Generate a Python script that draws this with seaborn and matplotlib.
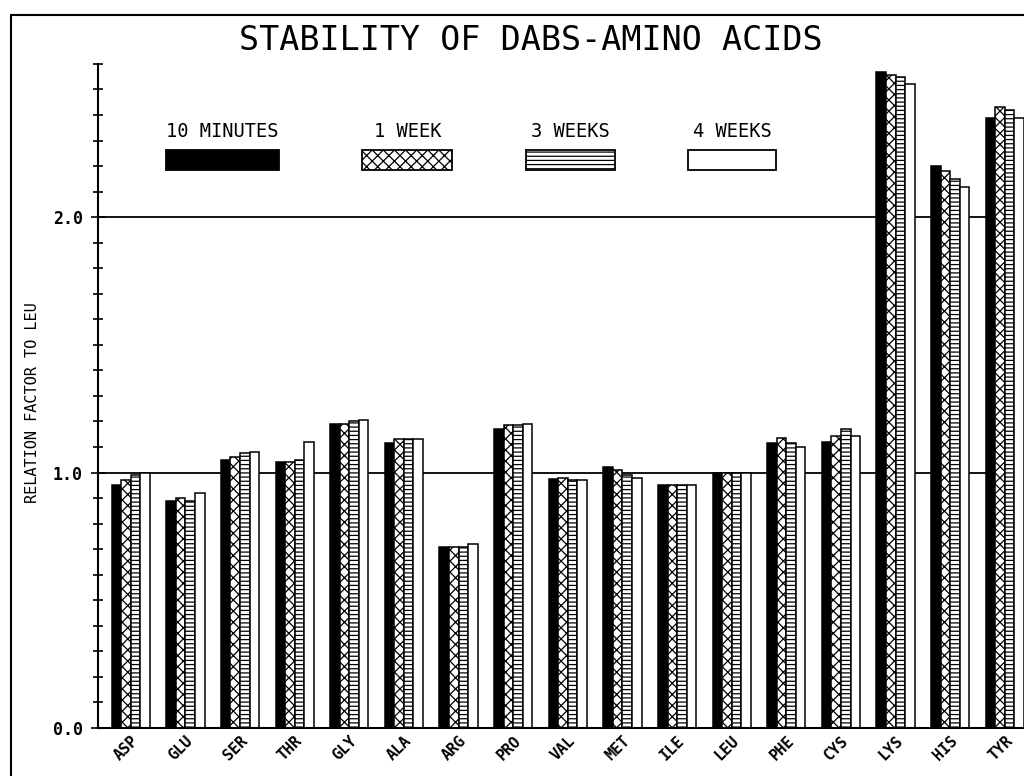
import matplotlib
matplotlib.use('Agg')
import matplotlib.pyplot as plt
from matplotlib.patches import Rectangle
from matplotlib.lines import Line2D
from matplotlib.ticker import MultipleLocator, FixedLocator
import numpy as np
import pandas as pd
import seaborn as sns

# Data
amino_acids = ['ASP', 'GLU', 'SER', 'THR', 'GLY', 'ALA', 'ARG', 'PRO', 'VAL',
               'MET', 'ILE', 'LEU', 'PHE', 'CYS', 'LYS', 'HIS', 'TYR']
series = ['10 MINUTES', '1 WEEK', '3 WEEKS', '4 WEEKS']
min_10 = [0.95, 0.89, 1.05, 1.04, 1.19, 1.115, 0.71, 1.17, 0.975, 1.02, 0.95, 1.00, 1.115, 1.12, 2.57, 2.20, 2.39]
week_1 = [0.97, 0.90, 1.06, 1.04, 1.19, 1.13, 0.71, 1.185, 0.98, 1.01, 0.95, 1.00, 1.135, 1.145, 2.555, 2.18, 2.43]
week_3 = [0.99, 0.89, 1.075, 1.05, 1.20, 1.13, 0.71, 1.185, 0.97, 0.99, 0.95, 1.00, 1.115, 1.17, 2.55, 2.15, 2.42]
week_4 = [1.00, 0.92, 1.08, 1.12, 1.205, 1.13, 0.72, 1.19, 0.97, 0.98, 0.95, 1.00, 1.10, 1.145, 2.52, 2.12, 2.39]
y_ticks = [0.0, 1.0, 2.0]
y_labels = ['0.0', '1.0', '2.0']

# Styles
fills = ['black', 'white', 'white', 'white']
hatches = [None, 'xxx', '----', None]
mono = 'DejaVu Sans Mono'

sns.set_style('white')
plt.rcParams['font.family'] = [mono, 'DejaVu Sans']
plt.rcParams['hatch.linewidth'] = 0.9
for key in ['text.color', 'axes.labelcolor', 'xtick.color', 'ytick.color']:
    plt.rcParams[key] = 'black'

df = pd.DataFrame({
    'acid': amino_acids * 4,
    'series': np.repeat(series, len(amino_acids)),
    'value': min_10 + week_1 + week_3 + week_4,
})

fig = plt.figure(figsize=(10.24, 7.76), dpi=100)
ax = fig.add_axes([0.0957, 0.0619, 0.9043, 0.8557])

sns.barplot(data=df, x='acid', y='value', hue='series', order=amino_acids,
            hue_order=series, palette=fills, saturation=1, width=0.7,
            edgecolor='black', linewidth=1.1, legend=False, ax=ax)

for container, hatch in zip(ax.containers, hatches):
    for bar in container:
        bar.set_hatch(hatch)

# Reference lines
for yv in [1.0, 2.0]:
    ax.axhline(yv, color='black', lw=1.3, zorder=0.5)

ax.set_xlim(-0.6, 16.35)
ax.set_ylim(0, 2.6)

for side in ['top', 'right']:
    ax.spines[side].set_visible(False)
for side in ['left', 'bottom']:
    ax.spines[side].set_linewidth(1.5)
    ax.spines[side].set_color('black')

ax.yaxis.set_major_locator(FixedLocator(y_ticks))
ax.set_yticklabels(y_labels, fontsize=12, fontweight='bold')
ax.yaxis.set_minor_locator(MultipleLocator(0.1))
ax.tick_params(axis='y', which='both', direction='inout', length=7, width=1.2,
               left=True, pad=6)
ax.tick_params(axis='y', which='major', length=10)
ax.tick_params(axis='x', length=0, pad=4)
plt.setp(ax.get_xticklabels(), rotation=45, ha='right', rotation_mode='anchor',
         fontsize=11, fontweight='bold')

ax.set_xlabel('')
ax.set_ylabel('RELATION FACTOR TO LEU', fontsize=11)
ax.yaxis.set_label_coords(-0.063, 0.49)

# Legend: labels above swatches
leg_centers = [0.134, 0.334, 0.510, 0.685]
leg_widths = [0.122, 0.097, 0.096, 0.095]
for name, fc, h, cx, w in zip(series, fills, hatches, leg_centers, leg_widths):
    ax.add_patch(Rectangle((cx - w / 2, 0.840), w, 0.030, transform=ax.transAxes,
                           facecolor=fc, edgecolor='black', hatch=h, lw=1.3,
                           clip_on=False))
    ax.text(cx, 0.898, name, transform=ax.transAxes, ha='center', va='center',
            fontsize=13.5)

fig.text(0.518, 0.948, 'STABILITY OF DABS-AMINO ACIDS', ha='center', va='center',
         fontsize=24)

# Page frame
fig.add_artist(Line2D([0.011, 1.0], [0.981, 0.981], color='black', lw=1.5,
                      transform=fig.transFigure))
fig.add_artist(Line2D([0.011, 0.011], [0.0, 0.981], color='black', lw=1.5,
                      transform=fig.transFigure))

fig.savefig('out.png', dpi=100)
